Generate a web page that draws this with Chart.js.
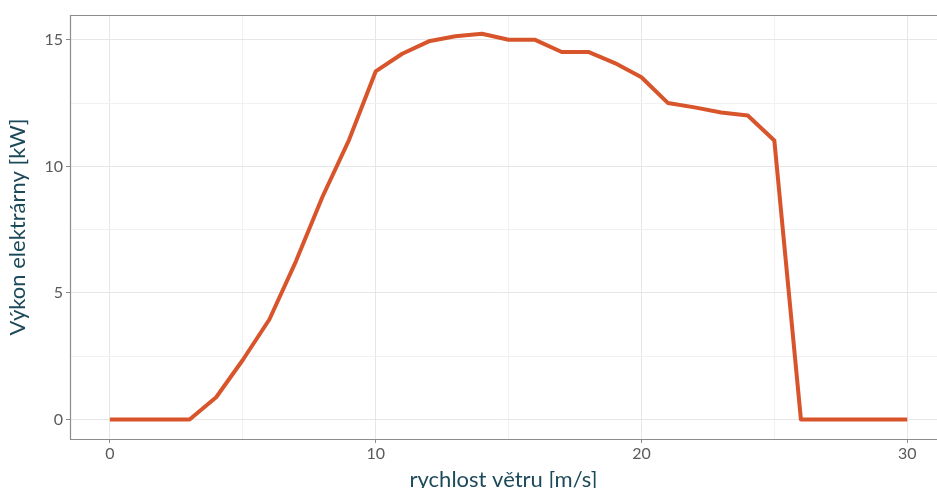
<!DOCTYPE html>
<html>
<head>
<meta charset="utf-8">
<script src="https://cdn.jsdelivr.net/npm/chart.js@4"></script>
<style>
  html, body { margin: 0; padding: 0; background: #fff; overflow: hidden; }
  #wrap { position: absolute; left: 0; top: 0; width: 937px; height: 500px; }
</style>
</head>
<body>
<div id="wrap"><canvas id="powerChart" width="937" height="500"></canvas></div>
<script>
// Wind power curve — výkon elektrárny vs. rychlost větru

const windSpeed = [0, 1, 2, 3, 4, 5, 6, 7, 8, 9, 10, 11, 12, 13, 14, 15,
  16, 17, 18, 19, 20, 21, 22, 23, 24, 25, 26, 27, 28, 29, 30];
const powerKW = [0, 0, 0, 0, 0.88, 2.35, 3.95, 6.25, 8.8, 11.05, 13.75, 14.45, 14.94, 15.14, 15.24, 15.0,
  15.0, 14.52, 14.52, 14.08, 13.52, 12.5, 12.33, 12.13, 12.01, 11.02, 0, 0, 0, 0, 0];

const X_TICKS = [0, 5, 10, 15, 20, 25, 30];
const X_LABELS = [0, 10, 20, 30];
const Y_TICKS = [0, 2.5, 5, 7.5, 10, 12.5, 15];
const Y_LABELS = [0, 5, 10, 15];

const COLORS = {
  line: '#D8552C',
  major: '#E6E6E6',
  minor: '#F1F1F1',
  border: '#8C8C8C',
  tick: '#5A5A5A',
  title: '#1D4A5A',
};

const FONT = 'Lato, "Open Sans", sans-serif';

// ── Helpers ───────────────────────────────────────────────

function isMajor(list, v) {
  return list.includes(v);
}

// panel border — right side is cut off by the picture edge
const panelBorder = {
  id: 'panelBorder',
  afterDatasetsDraw(chart) {
    const { ctx, chartArea: a } = chart;
    ctx.save();
    ctx.strokeStyle = COLORS.border;
    ctx.lineWidth = 1.2;
    ctx.beginPath();
    ctx.moveTo(a.right + 2, a.top + 0.5);
    ctx.lineTo(a.left + 0.5, a.top + 0.5);
    ctx.lineTo(a.left + 0.5, a.bottom + 0.5);
    ctx.lineTo(a.right + 2, a.bottom + 0.5);
    ctx.stroke();
    ctx.restore();
  },
};

// ── Chart ─────────────────────────────────────────────────

new Chart(document.getElementById('powerChart'), {
  type: 'line',
  data: {
    datasets: [{
      data: windSpeed.map((x, i) => ({ x, y: powerKW[i] })),
      borderColor: COLORS.line,
      borderWidth: 4,
      pointRadius: 0,
      tension: 0,
      fill: false,
      borderJoinStyle: 'round',
    }],
  },
  options: {
    responsive: false,
    animation: false,
    layout: { padding: { left: 0, right: 0, top: 15, bottom: 0 } },
    plugins: { legend: { display: false }, tooltip: { enabled: false } },
    scales: {
      x: {
        type: 'linear',
        min: -1.5,
        max: 31.12,
        afterBuildTicks: s => { s.ticks = X_TICKS.map(v => ({ value: v })); },
        afterFit: s => { s.height = 61; },
        border: { display: false },
        grid: {
          color: c => isMajor(X_LABELS, c.tick.value) ? COLORS.major : COLORS.minor,
          tickColor: c => isMajor(X_LABELS, c.tick.value) ? COLORS.border : 'rgba(0,0,0,0)',
          tickLength: 4,
          lineWidth: 1,
        },
        ticks: {
          color: COLORS.tick,
          font: { family: FONT, size: 16 },
          padding: 1,
          maxRotation: 0,
          callback: v => isMajor(X_LABELS, v) ? String(v) : '',
        },
        title: {
          display: true,
          text: 'rychlost větru [m/s]',
          color: COLORS.title,
          font: { family: FONT, size: 22 },
          padding: { top: 0, bottom: 7 },
        },
      },
      y: {
        type: 'linear',
        min: -0.77,
        max: 15.98,
        afterBuildTicks: s => { s.ticks = Y_TICKS.map(v => ({ value: v })); },
        afterFit: s => { s.width = 70; },
        border: { display: false },
        grid: {
          color: c => isMajor(Y_LABELS, c.tick.value) ? COLORS.major : COLORS.minor,
          tickColor: c => isMajor(Y_LABELS, c.tick.value) ? COLORS.border : 'rgba(0,0,0,0)',
          tickLength: 4,
          lineWidth: 1,
        },
        ticks: {
          color: COLORS.tick,
          font: { family: FONT, size: 16 },
          padding: 3,
          callback: v => isMajor(Y_LABELS, v) ? String(v) : '',
        },
        title: {
          display: true,
          text: 'Výkon elektrárny [kW]',
          color: COLORS.title,
          font: { family: FONT, size: 22 },
          padding: { top: 5, bottom: 0 },
        },
      },
    },
  },
  plugins: [panelBorder],
});
</script>
</body>
</html>
